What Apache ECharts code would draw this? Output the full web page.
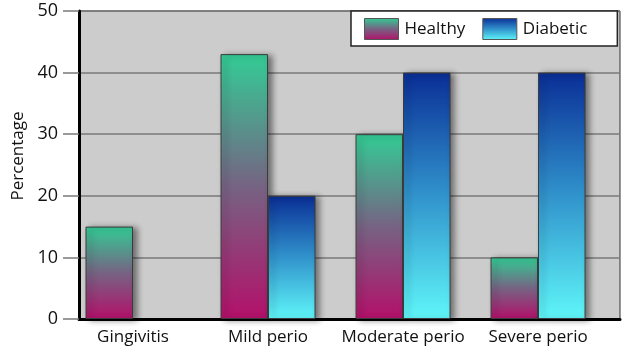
<!DOCTYPE html>
<html>
<head>
<meta charset="utf-8">
<script src="https://cdn.jsdelivr.net/npm/echarts@6/dist/echarts.min.js"></script>
<style>
  html, body { margin: 0; padding: 0; background: #ffffff; }
  #chart { width: 622px; height: 350px; }
</style>
</head>
<body>
<div id="chart"></div>
<script>
// Periodontal status by group (percentage of subjects)
const categories = ['Gingivitis', 'Mild perio', 'Moderate perio', 'Severe perio'];
const healthy = [15, 43, 30, 10];
const diabetic = [null, 20, 40, 40];
const yTicks = [0, 10, 20, 30, 40, 50];

const FONT = '"Open Sans", "DejaVu Sans", sans-serif';

const healthyFill = new echarts.graphic.LinearGradient(0, 0, 0, 1, [
  { offset: 0, color: '#33cc95' },
  { offset: 0.5, color: '#766383' },
  { offset: 1, color: '#b3106a' }
]);
const diabeticFill = new echarts.graphic.LinearGradient(0, 0, 0, 1, [
  { offset: 0, color: '#0a2e96' },
  { offset: 0.5, color: '#3193cc' },
  { offset: 1, color: '#5ff6f9' }
]);

const barStyle = (fill) => ({
  color: fill,
  borderColor: '#3a3a3a',
  borderWidth: 1,
  shadowColor: 'rgba(0,0,0,0.45)',
  shadowBlur: 6,
  shadowOffsetX: 4,
  shadowOffsetY: 1
});

const toPoints = (vals) => vals.map((v, i) => [i, v == null ? '-' : v]);

const chart = echarts.init(document.getElementById('chart'), null, { renderer: 'canvas' });
chart.setOption({
  backgroundColor: '#ffffff',
  animation: false,
  grid: {
    left: 79, top: 11, right: 2, bottom: 31,
    show: true,
    backgroundColor: '#cccccc',
    borderColor: '#333333',
    borderWidth: 1
  },
  legend: {
    data: ['Healthy', 'Diabetic'],
    left: 351, top: 11,
    orient: 'horizontal',
    backgroundColor: '#ffffff',
    borderColor: '#222222',
    borderWidth: 1.5,
    padding: [7, 30, 6, 13],
    itemWidth: 34, itemHeight: 21,
    itemGap: 17,
    icon: 'rect',
    itemStyle: { shadowBlur: 0, shadowOffsetX: 0, shadowOffsetY: 0, borderColor: '#555555', borderWidth: 1 },
    textStyle: { fontFamily: FONT, fontSize: 17, color: '#111111', padding: [0, 0, 0, 1] }
  },
  xAxis: {
    type: 'value',
    min: -0.4, max: 3.607,
    axisLine: { show: true, onZero: false, lineStyle: { color: '#000000', width: 3 } },
    axisTick: { show: false },
    splitLine: { show: false },
    axisLabel: {
      customValues: categories.map((c, i) => i),
      formatter: (v) => categories[Math.round(v)],
      fontFamily: FONT, fontSize: 17, color: '#111111', margin: 10
    }
  },
  yAxis: {
    type: 'value',
    min: yTicks[0], max: yTicks[yTicks.length - 1], interval: 10,
    name: 'Percentage',
    nameLocation: 'middle',
    nameGap: 52,
    nameTextStyle: { fontFamily: FONT, fontSize: 17, color: '#111111', padding: [0, 0, 0, 18] },
    axisLine: { show: true, onZero: false, lineStyle: { color: '#000000', width: 3 } },
    axisTick: { show: true, length: 16, lineStyle: { color: '#7a7a7a', width: 1.5 } },
    splitLine: { show: true, lineStyle: { color: '#7a7a7a', width: 1.5 } },
    axisLabel: { fontFamily: FONT, fontSize: 18, color: '#111111', margin: 21 }
  },
  series: [
    {
      name: 'Healthy', type: 'bar',
      data: toPoints(healthy),
      barWidth: 47.5, barGap: '0%',
      itemStyle: barStyle(healthyFill)
    },
    {
      name: 'Diabetic', type: 'bar',
      data: toPoints(diabetic),
      barWidth: 47.5, barGap: '0%',
      itemStyle: barStyle(diabeticFill)
    }
  ]
});
</script>
</body>
</html>
